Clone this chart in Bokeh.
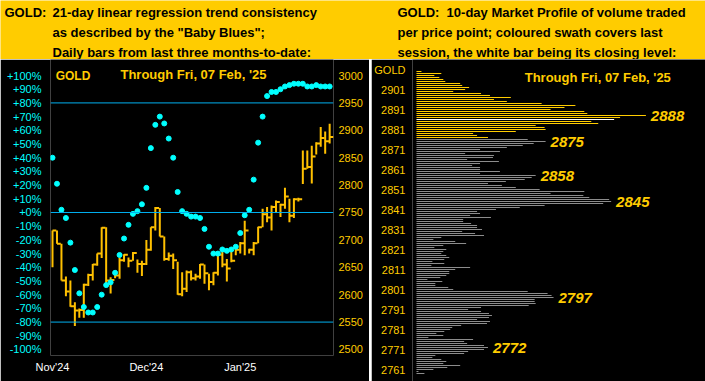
import numpy as np
from bokeh.plotting import figure
from bokeh.models import Range1d, LinearAxis, FixedTicker, Span, Label, ColumnDataSource
from bokeh.layouts import column, row
from bokeh.embed import file_html
from bokeh.resources import INLINE
from bokeh.core.properties import value

FONT = "Liberation Sans"
YEL = "#FFCC00"
BAR = "#FFC000"
CYAN = "#00FFFF"
BLUE = "#00B0F0"
GREY = "#8C8C8C"
NB = "\u00a0"

# ---------------- left panel data ----------------
month_ticks = [0, 21, 42]
month_labels = ["Nov'24", "Dec'24", "Jan'25"]
highs = [2717, 2717, 2693, 2633, 2626, 2586, 2575, 2620, 2638, 2656,
         2675, 2723, 2723, 2632, 2640, 2668, 2674, 2668, 2678, 2664,
         2662, 2700, 2723, 2760, 2758, 2706, 2677, 2675, 2660, 2641,
         2644, 2644, 2638, 2656, 2655, 2638, 2641, 2675, 2681, 2665,
         2681, 2684, 2696, 2735, 2684, 2696, 2724, 2757, 2760, 2763,
         2772, 2766, 2795, 2775, 2776, 2777, 2863, 2863, 2872, 2878,
         2906, 2898, 2912]
lows = [2650, 2693, 2626, 2597, 2578, 2543, 2558, 2558, 2616, 2626,
        2653, 2667, 2620, 2602, 2630, 2629, 2660, 2650, 2662, 2640,
        2634, 2654, 2680, 2717, 2706, 2662, 2662, 2647, 2600, 2597,
        2605, 2626, 2626, 2629, 2620, 2608, 2617, 2635, 2650, 2624,
        2659, 2672, 2675, 2672, 2675, 2672, 2694, 2723, 2732, 2717,
        2750, 2742, 2757, 2732, 2740, 2770, 2802, 2830, 2803, 2856,
        2870, 2857, 2876]
closes = [2717, 2693, 2626, 2606, 2579, 2571, 2572, 2618, 2636, 2655,
          2675, 2722, 2626, 2627, 2635, 2663, 2673, 2662, 2676, 2656,
          2656, 2682, 2723, 2758, 2706, 2665, 2671, 2663, 2601, 2611,
          2641, 2630, 2633, 2655, 2639, 2623, 2640, 2673, 2655, 2648,
          2662, 2682, 2694, 2717, 2682, 2694, 2723, 2747, 2741, 2760,
          2769, 2764, 2779, 2744, 2774, 2774, 2830, 2833, 2852, 2876,
          2886, 2880, 2888]
baby_blues = [40, 21, 2, -4, -22, -42, -59, -69, -73, -73,
              -69, -60, -53, -51, -44, -31, -19, -9, -1, 1,
              6, 18, 47, 64, 70, 65, 54, 40, 15, 1,
              -1, -3, -3, -4, -12, -25, -30, -30, -27, -28,
              -27, -25, -15, -2, 2, 24, 51, 70, 85, 88,
              88, 90, 92, 93, 94, 94, 94, 92, 92, 93,
              92, 92, 92]
pct_ticks = list(range(-100, 101, 10))
price_ticks_left = list(range(2500, 3001, 50))
band_levels = [80, 0, -80]

# ---------------- right panel data ----------------
profile_top = 2910
volumes = [5, 25, 18, 23, 27, 29, 44, 46, 53, 49, 37, 65, 74, 95, 78, 91,
           126, 160, 149, 135, 169, 172, 231, 205, 199, 176, 183, 120, 129, 130,
           100, 57, 61, 72,
           112, 130, 118, 107, 91, 64, 84, 49, 78, 77, 51, 83, 64, 56,
           64, 64, 84, 64, 120, 116, 109, 90, 72, 86, 100,
           124, 169, 135, 168, 174, 194, 196, 188, 129, 104, 80, 61, 64, 54, 75, 47,
           47, 55, 61, 61, 66, 46, 59, 68, 25, 17, 39, 50, 27, 18, 30, 27, 25, 30, 33, 28,
           16, 28, 15, 54, 39, 33, 33, 30, 24, 11, 26, 19, 19, 32, 37, 112, 132, 136, 138, 119,
           119, 120, 113, 65, 52, 65, 73, 76, 73, 61, 74, 71, 45, 36, 34, 28, 20, 27, 12, 57,
           48, 51, 68, 72, 68, 52, 48, 19, 16, 25, 30, 27, 44, 31, 17, 2, 8]
session_high = 2910
session_low = 2877
close_level = 2886
profile_ticks = list(range(2761, 2902, 10))
peak_labels = [2888, 2875, 2858, 2845, 2797, 2772]

# ---------------- layout sizes ----------------
W, H = 705, 381
HDR = 59
BODY = H - HDR
LW, SW = 369, 2
RW = W - LW - SW

# ---------------- header ----------------
hdr = figure(width=W, height=HDR, x_range=Range1d(0, 705), y_range=Range1d(59, 0),
             x_axis_location=None, y_axis_location=None, toolbar_location=None,
             output_backend="svg", min_border=0, min_border_left=0, min_border_right=0,
             min_border_top=0, min_border_bottom=0, frame_align=False,
             background_fill_color=YEL, border_fill_color=YEL, outline_line_color=None)
hdr.grid.grid_line_color = None
hdr_lines = [
    (4, 11.7, "GOLD:"),
    (52, 11.7, "21-day linear regression trend consistency"),
    (52, 31.7, "as described by the \"Baby Blues\";"),
    (52, 51.7, "Daily bars from last three months-to-date:"),
    (397, 11.7, "GOLD:" + NB + NB + "10-day Market Profile of volume traded"),
    (397, 31.7, "per price point; coloured swath covers last"),
    (397, 51.7, "session, the white bar being its closing level:"),
]
for x, y, t in hdr_lines:
    hdr.add_layout(Label(x=x, y=y, text=t, text_font=FONT, text_font_style="bold",
                         text_font_size="13px", text_color="black",
                         text_baseline="middle", text_align="left"))

# ---------------- left body ----------------
pct_lo, pct_hi = -104.4, 111.7
lp = figure(width=LW, height=BODY, x_range=Range1d(-0.45, 62.86),
            y_range=Range1d(pct_lo, pct_hi), toolbar_location=None,
            output_backend="svg", min_border_left=50, min_border_right=36,
            min_border_top=0, min_border_bottom=26, frame_align=False,
            background_fill_color="black", border_fill_color="black",
            outline_line_color=None)
lp.extra_y_ranges = {"price": Range1d(2750 + 2.5 * pct_lo, 2750 + 2.5 * pct_hi)}
lp.grid.grid_line_color = None

yl = lp.yaxis[0]
yl.ticker = FixedTicker(ticks=pct_ticks)
yl.major_label_overrides = {t: (f"+{t}%" if t >= 0 else f"{t}%") for t in pct_ticks}
yl.major_label_text_color = CYAN
yl.major_label_standoff = 9

yr = LinearAxis(y_range_name="price", ticker=FixedTicker(ticks=price_ticks_left))
yr.major_label_text_color = YEL
yr.major_label_standoff = 5
lp.add_layout(yr, "right")

xa = lp.xaxis[0]
xa.ticker = FixedTicker(ticks=month_ticks)
xa.major_label_overrides = {t: l for t, l in zip(month_ticks, month_labels)}
xa.major_label_text_color = "white"
xa.major_label_standoff = 5

for ax in lp.axis:
    ax.axis_line_color = None
    ax.major_tick_line_color = None
    ax.minor_tick_line_color = None
    ax.major_tick_out = 0
    ax.major_tick_in = 0
    ax.major_label_text_font = FONT
    ax.major_label_text_font_size = "11px"

for lvl in band_levels:
    lp.add_layout(Span(location=lvl, dimension="width", line_color=BLUE, line_width=1))

idx = np.arange(len(closes))
src = ColumnDataSource(dict(x=idx, xe=idx + 0.85, hi=highs, lo=lows, cl=closes, bb=baby_blues))
lp.segment("x", "lo", "x", "hi", source=src, y_range_name="price", line_color=BAR, line_width=2)
lp.segment("x", "cl", "xe", "cl", source=src, y_range_name="price", line_color=BAR, line_width=2)
lp.scatter("x", "bb", source=src, size=5, color=CYAN, line_color=CYAN)

lp.add_layout(Label(x=0.7, y=100, text="GOLD", text_font=FONT, text_font_style="bold",
                    text_font_size="12px", text_color=YEL, text_baseline="middle"))
lp.add_layout(Label(x=15.2, y=100.8, text="Through Fri, 07 Feb, '25", text_font=FONT,
                    text_font_style="bold", text_font_size="13px", text_color=YEL,
                    text_baseline="middle"))

# ---------------- separator ----------------
sep = figure(width=SW, height=BODY, x_axis_location=None, y_axis_location=None,
             toolbar_location=None, output_backend="svg", min_border=0,
             min_border_left=0, min_border_right=0, min_border_top=0, min_border_bottom=0,
             frame_align=False,
             background_fill_color="white", border_fill_color="white", outline_line_color=None)
sep.grid.grid_line_color = None

# ---------------- right body ----------------
r_top = 2916.0
r_bottom = r_top - BODY / 2.0
rp = figure(width=RW, height=BODY, x_range=Range1d(-4, 291), y_range=Range1d(r_bottom, r_top),
            x_axis_location=None, toolbar_location=None, output_backend="svg",
            min_border_left=39, min_border_right=0, min_border_top=0, min_border_bottom=0,
            frame_align=False,
            background_fill_color="black", border_fill_color="black", outline_line_color=None)
rp.grid.grid_line_color = None
ra = rp.yaxis[0]
ra.ticker = FixedTicker(ticks=profile_ticks + [2911])
ra.major_label_overrides = {2911: "GOLD"}
ra.major_label_text_color = YEL
ra.major_label_text_font = FONT
ra.major_label_text_font_size = "11px"
ra.major_label_standoff = 7
ra.axis_line_color = None
ra.major_tick_line_color = None
ra.minor_tick_line_color = None
ra.major_tick_out = 0
ra.major_tick_in = 0

prices = profile_top - np.arange(len(volumes))
cols = []
for pr in prices:
    if pr == close_level:
        cols.append("white")
    elif session_low <= pr <= session_high:
        cols.append(YEL)
    else:
        cols.append(GREY)
psrc = ColumnDataSource(dict(p=prices, v=volumes, c=cols))
rp.hbar(y="p", left=0, right="v", height=0.5, fill_color="c", line_color=None, source=psrc)

vol_at = {int(pr): v for pr, v in zip(prices, volumes)}
lsrc = ColumnDataSource(dict(x=[vol_at[p] + 5 for p in peak_labels], y=peak_labels,
                             t=[str(p) for p in peak_labels]))
rp.text("x", "y", text="t", source=lsrc, text_font=value(FONT), text_font_style="bold italic",
        text_font_size="15px", text_color=YEL, text_baseline="middle", text_align="left")

rp.add_layout(Label(x=109, y=2907, text="Through Fri, 07 Feb, '25", text_font=FONT,
                    text_font_style="bold", text_font_size="13px", text_color=YEL,
                    text_baseline="middle"))

layout = column(hdr, row(lp, sep, rp, spacing=0), spacing=0)
open("out.html", "w").write(file_html(layout, INLINE))
